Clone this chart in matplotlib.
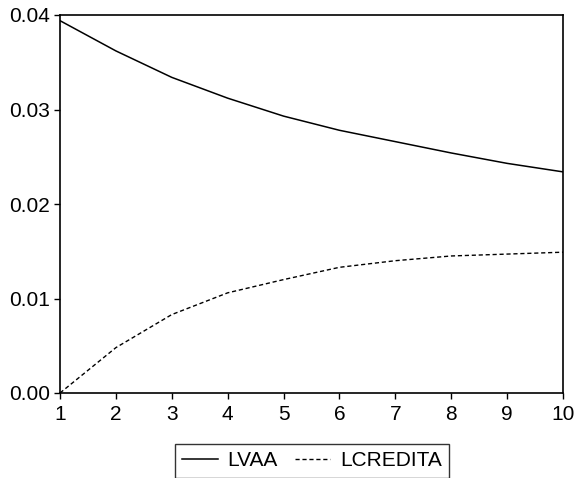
import numpy as np, matplotlib
matplotlib.use("Agg"); import matplotlib.pyplot as plt

# impulse-response style values
periods = [1, 2, 3, 4, 5, 6, 7, 8, 9, 10]
lvaa = [0.0394, 0.0362, 0.0334, 0.0312, 0.0293, 0.0278, 0.0266, 0.0254, 0.0243, 0.0234]
lcredita = [0.0000, 0.0048, 0.0083, 0.0106, 0.0120, 0.0133, 0.0140, 0.0145, 0.0147, 0.0149]
yticks = [0.00, 0.01, 0.02, 0.03, 0.04]
ytick_labels = ["0.00", "0.01", "0.02", "0.03", "0.04"]

plt.rcParams["font.family"] = ["Liberation Sans", "DejaVu Sans"]

fig = plt.figure(figsize=(5.75, 4.78), dpi=100)
ax = fig.add_axes([60/575, 1-393/478, (563-60)/575, (393-15)/478])

ax.plot(periods, lvaa, color="black", lw=1.1, label="LVAA")
ax.plot(periods, lcredita, color="black", lw=1.0, ls=(0, (3, 2)), label="LCREDITA")

ax.set_xlim(1, 10); ax.set_ylim(0, 0.04)
ax.set_xticks(periods)
ax.set_yticks(yticks); ax.set_yticklabels(ytick_labels)
ax.tick_params(direction="out", length=4, width=1, labelsize=15, colors="black")
ax.tick_params(axis="x", pad=5); ax.tick_params(axis="y", pad=3)
for s in ax.spines.values():
    s.set_linewidth(1.2); s.set_color("black")

fig.legend(loc="upper left", bbox_to_anchor=(175/575, 1-444/478), ncol=2,
           fontsize=15, frameon=True, fancybox=False, edgecolor="black",
           borderaxespad=0, handlelength=1.7, handletextpad=0.45,
           columnspacing=0.85, borderpad=0.35).get_frame().set_linewidth(1.0)

fig.savefig("out.png", dpi=100, facecolor="white")
